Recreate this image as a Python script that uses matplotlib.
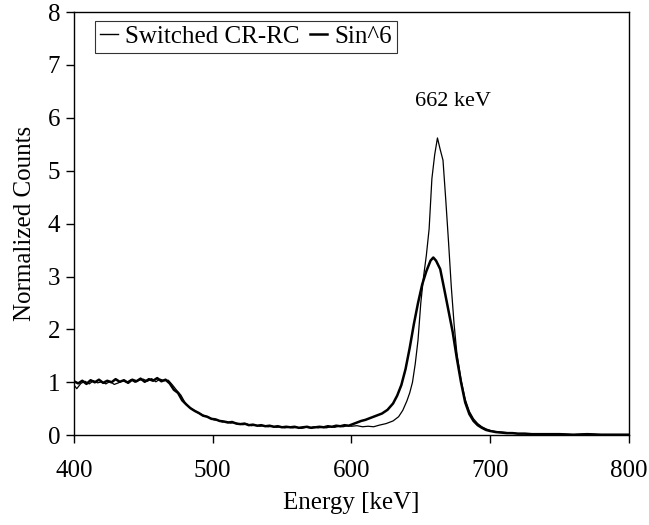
import matplotlib
matplotlib.use('Agg')
import matplotlib.pyplot as plt
import numpy as np

# Sin^6 shaper (thick line)
e_sin = [400, 403, 406, 409, 412, 415, 418, 421, 424, 427, 430, 433, 436, 439, 442, 445,
         448, 451, 454, 457, 460, 463, 466, 469, 472, 475, 478, 481, 484, 487, 490, 493,
         496, 499, 502, 505, 508, 511, 514, 517, 520, 523, 526, 529, 532, 535, 538, 541,
         544, 547, 550, 553, 556, 559, 562, 565, 568, 571, 574, 577, 580, 583, 586, 589,
         592, 595, 598, 601, 604, 607, 610, 614, 618, 622, 626, 630, 633, 636, 639, 642,
         645, 648, 651, 654, 657, 659, 661, 664, 667, 670, 673, 676, 679, 682, 685, 688,
         691, 694, 697, 700, 704, 708, 712, 716, 720, 725, 730, 740, 750, 760, 770, 780,
         790, 800]
v_sin = [1.02, 0.98, 1.03, 0.97, 1.04, 1.00, 1.05, 0.99, 1.03, 1.00, 1.06, 1.01, 1.04, 0.99, 1.05, 1.02,
         1.07, 1.01, 1.06, 1.03, 1.08, 1.02, 1.05, 0.98, 0.86, 0.80, 0.66, 0.58, 0.51, 0.46, 0.42, 0.37,
         0.35, 0.31, 0.30, 0.27, 0.26, 0.24, 0.25, 0.22, 0.21, 0.22, 0.19, 0.20, 0.18, 0.19, 0.17, 0.18,
         0.16, 0.17, 0.15, 0.16, 0.15, 0.16, 0.14, 0.15, 0.16, 0.14, 0.15, 0.16, 0.15, 0.17, 0.16, 0.18,
         0.17, 0.19, 0.18, 0.21, 0.24, 0.27, 0.29, 0.33, 0.37, 0.41, 0.48, 0.60, 0.75, 0.95, 1.25, 1.65,
         2.10, 2.50, 2.85, 3.10, 3.30, 3.36, 3.30, 3.14, 2.75, 2.35, 1.95, 1.45, 1.00, 0.62, 0.40, 0.27,
         0.19, 0.14, 0.10, 0.08, 0.06, 0.05, 0.04, 0.04, 0.03, 0.03, 0.02, 0.02, 0.02, 0.01, 0.02, 0.01,
         0.01, 0.01]

# Switched CR-RC shaper (thin line)
e_crrc = [400, 402, 405, 408, 411, 414, 417, 420, 423, 426, 429, 432, 435, 438, 441, 444,
          447, 450, 453, 456, 459, 462, 465, 468, 471, 474, 477, 480, 483, 486, 489, 492,
          495, 498, 501, 504, 507, 510, 513, 516, 519, 522, 525, 528, 531, 534, 537, 540,
          543, 546, 549, 552, 555, 558, 561, 564, 567, 570, 573, 576, 579, 582, 585, 588,
          591, 594, 597, 600, 604, 608, 612, 616, 620, 625, 630, 634, 637, 640, 642, 644,
          646, 648, 650, 652, 654, 656, 658, 660, 662, 664, 666, 668, 670, 672, 674, 676,
          679, 682, 685, 688, 691, 694, 697, 700, 704, 708, 712, 716, 720, 725, 730, 740,
          750, 760, 770, 780, 790, 800]
v_crrc = [0.95, 0.88, 0.98, 1.02, 0.97, 1.03, 0.99, 1.01, 0.97, 1.02, 0.96, 0.99, 1.03, 1.00, 1.05, 1.00,
          1.04, 1.06, 1.02, 1.07, 1.01, 1.06, 1.03, 1.04, 0.95, 0.85, 0.76, 0.62, 0.53, 0.48, 0.43, 0.39,
          0.36, 0.33, 0.29, 0.28, 0.25, 0.26, 0.23, 0.24, 0.21, 0.20, 0.21, 0.18, 0.19, 0.17, 0.18, 0.16,
          0.17, 0.15, 0.16, 0.14, 0.15, 0.14, 0.15, 0.13, 0.15, 0.14, 0.16, 0.14, 0.15, 0.14, 0.16, 0.15,
          0.17, 0.16, 0.18, 0.17, 0.18, 0.16, 0.17, 0.16, 0.19, 0.22, 0.27, 0.35, 0.47, 0.65, 0.80, 1.00,
          1.35, 1.80, 2.50, 3.00, 3.40, 3.90, 4.85, 5.30, 5.62, 5.40, 5.20, 4.45, 3.65, 2.80, 2.10, 1.55,
          1.05, 0.68, 0.45, 0.31, 0.22, 0.16, 0.12, 0.09, 0.07, 0.06, 0.05, 0.04, 0.03, 0.03, 0.02, 0.02,
          0.02, 0.01, 0.02, 0.01, 0.01, 0.01]

plt.rcParams['font.family'] = ['Liberation Serif', 'DejaVu Serif']

fig = plt.figure(figsize=(6.49, 5.25), dpi=100)
ax = fig.add_axes([0.114, 0.171, 0.855, 0.806])

ax.plot(e_crrc, v_crrc, color='black', lw=0.9, label='Switched CR-RC')
ax.plot(e_sin, v_sin, color='black', lw=1.8, label='Sin^6')

ax.set_xlim(400, 800)
ax.set_ylim(0, 8)
ax.set_xticks(np.arange(400, 801, 100))
ax.set_yticks(np.arange(0, 9, 1))
ax.tick_params(direction='out', length=6, width=1, labelsize=18)
ax.tick_params(axis='x', pad=12)
ax.tick_params(axis='y', pad=4)
for s in ax.spines.values():
    s.set_linewidth(1.0)

ax.set_xlabel('Energy [keV]', fontsize=18, labelpad=7)
ax.set_ylabel('Normalized Counts', fontsize=18, labelpad=8)

ax.text(673, 6.3, '662 keV', fontsize=16, ha='center', va='center')

leg = ax.legend(loc='upper left', ncol=2, fontsize=18, frameon=True, fancybox=False,
                handlelength=0.7, handletextpad=0.3, columnspacing=0.4,
                borderpad=0.2, borderaxespad=0.0, bbox_to_anchor=(0.038, 0.98))
leg.get_frame().set_edgecolor('black')
leg.get_frame().set_linewidth(0.8)
for h in leg.get_lines():
    h.set_linewidth(1.0)
leg.get_lines()[1].set_linewidth(1.8)

fig.savefig('out.png', dpi=100)
